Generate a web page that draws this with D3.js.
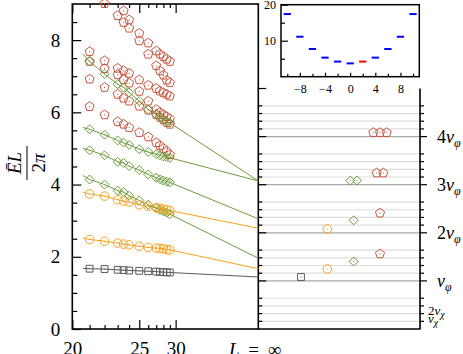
<!DOCTYPE html>
<html>
<head>
<meta charset="utf-8">
<script src="https://cdn.jsdelivr.net/npm/d3@7"></script>
<style>
  body { margin: 0; background: #fff; }
  svg { display: block; font-family: "Liberation Serif", "DejaVu Serif", serif; }
</style>
</head>
<body>
<div id="chart"></div>
<script>
// system sizes L, plotted against 1/L^2
const sizes = [21, 22, 23, 23.5, 24, 25, 26, 27, 27.5, 28, 28.5, 29]
const lineStartSize = 20.6

// E L / 2pi for every level, one value per size
const squareLevel = [1.67, 1.66, 1.64, 1.63, 1.62, 1.61, 1.60, 1.59, 1.58, 1.575, 1.57, 1.565]
const circleLow  = [2.48, 2.43, 2.38, 2.35, 2.33, 2.29, 2.26, 2.24, 2.23, 2.22, 2.20, 2.19]
const circleHigh = [3.74, 3.68, 3.58, 3.54, 3.52, 3.44, 3.40, 3.36, 3.34, 3.32, 3.30, 3.28]
const diamondA = [4.14, 4.00, 3.83, 3.79, 3.69, 3.56, 3.44, 3.35, 3.30, 3.26, 3.22, 3.18]
const diamondB = [4.95, 4.81, 4.63, 4.60, 4.51, 4.40, 4.28, 4.19, 4.15, 4.11, 4.08, 4.06]
const diamondC = [5.53, 5.38, 5.22, 5.16, 5.10, 4.98, 4.90, 4.84, 4.81, 4.78, 4.76, 4.74]
const diamondD = [7.41, 7.06, 6.78, 6.69, 6.55, 6.31, 6.08, 5.94, 5.87, 5.80, 5.75, 5.71]
const pentA = [6.16, 5.93, 5.74, 5.67, 5.58, 5.44, 5.32, 5.16, 5.08, 5.00, 4.92, 4.83]
const pentB = [6.92, 6.69, 6.50, 6.39, 6.31, 6.17, 6.06, 5.94, 5.86, 5.79, 5.72, 5.67]
const pentC = [7.41, 7.21, 7.04, 6.90, 6.81, 6.58, 6.31, 6.08, 6.00, 5.93, 5.88, 5.82]
const pentD = [7.68, 7.43, 7.22, 7.15, 7.08, 6.90, 6.75, 6.66, 6.59, 6.54, 6.50, 6.45]
const pentE = [null, 9.01, 8.68, 8.49, 8.33, 7.98, 7.61, 7.29, 7.15, 7.03, 6.89, 6.82]
const pentF = [null, null, null, 8.81, 8.56, 8.19, 7.92, 7.70, 7.61, 7.54, 7.47, 7.41]

// fitted lines: value at the line start and at L = infinity
const fitKinds  = ["square", "circle", "circle", "diamond", "diamond", "diamond", "diamond"]
const fitLevels = [squareLevel, circleLow, circleHigh, diamondA, diamondB, diamondC, diamondD]
const fitStart  = [1.68, 2.52, 3.79, 4.25, 5.00, 5.58, 7.61]
const fitEnd    = [1.44, 1.67, 2.79, 1.96, 3.05, 4.10, 4.10]

// extrapolated levels shown in the right panel
const infKinds  = ["square", "circle", "circle", "diamond", "diamond", "diamond", "diamond",
                   "pentagon", "pentagon", "pentagon", "pentagon", "pentagon", "pentagon", "pentagon"]
const infValues = [1.44, 1.66, 2.77, 1.87, 3.01, 4.11, 4.11, 2.08, 3.21, 4.32, 4.32, 5.44, 5.44, 5.44]

// velocities for the reference lines
const vPhi = 1.332
const vChi = 0.213
const phiMultiples = [1, 2, 3, 4]
const chiMultiples = [1, 2, 3, 4]

// inset: band vs momentum
const momenta = [-10, -8, -6, -4, -2, 0, 2, 4, 6, 8, 10]
const bandEnergy = [17.4, 11.1, 7.7, 5.3, 4.2, 3.7, 4.2, 5.3, 7.7, 11.1, 17.4]
const markedMomentum = 2

const yMajorTicks = [0, 2, 4, 6, 8]
const yMinorTicks = [0.5, 1, 1.5, 2.5, 3, 3.5, 4.5, 5, 5.5, 6.5, 7, 7.5, 8.5]
const xMajorTicks = [20, 25, 30]
const xMinorTicks = [21, 22, 23, 24, 26, 27, 28, 29]
const insetXLabels = [-8, -4, 0, 4, 8]
const insetXTicks = [-10, -6, -2, 2, 6, 10]

const colors = {square: "#5a5a5a", circle: "#f9a21e", diamond: "#6e9c3d", pentagon: "#c9573f"}

function markerPath(kind) {
  if (kind == "square") return "M-3.4,-3.4H3.4V3.4H-3.4Z"
  if (kind == "circle") return d3.symbol(d3.symbolCircle, Math.PI * 4.3 * 4.3)()
  if (kind == "diamond") return "M0,-4.5L4.5,0L0,4.5L-4.5,0Z"
  const pts = d3.range(5).map(i => {
    const a = -Math.PI / 2 + i * 2 * Math.PI / 5
    return [4.8 * Math.cos(a), 4.8 * Math.sin(a)]
  })
  return "M" + pts.join("L") + "Z"
}

const svg = d3.select("#chart")
  .append("svg")
    .attr("width", 463)
    .attr("height", 354)

const x = d3.scaleLinear().domain([1 / 400, 0]).range([72.3, 258.3])
const y = d3.scaleLinear().domain([0, 9]).range([329, 4])
const xR = d3.scalePoint().domain(["square", "circle", "diamond", "pentagon"]).range([301, 380])
const u = L => 1 / (L * L)

// right panel reference lines
const refLevels = []
chiMultiples.forEach(m => refLevels.push({v: m * vChi, major: false}))
phiMultiples.forEach(n => {
  refLevels.push({v: n * vPhi, major: true})
  chiMultiples.forEach(m => refLevels.push({v: n * vPhi + m * vChi, major: false}))
})

svg.append("g").selectAll("line")
  .data(refLevels)
  .join("line")
    .attr("x1", 258.3).attr("x2", 420)
    .attr("y1", d => y(d.v)).attr("y2", d => y(d.v))
    .attr("stroke", d => d.major ? "#a8a8a8" : "#dedede")
    .attr("stroke-width", 1.2)

const tickLevels = refLevels.concat([{v: 5 * vPhi, major: true}])
svg.append("g").selectAll("line")
  .data(tickLevels)
  .join("line")
    .attr("x1", 258.3).attr("x2", d => 258.3 + (d.major ? 8 : 4))
    .attr("y1", d => y(d.v)).attr("y2", d => y(d.v))
    .attr("stroke", "black").attr("stroke-width", 1.2)
svg.append("g").selectAll("line")
  .data(refLevels)
  .join("line")
    .attr("x1", 420).attr("x2", d => 420 + (d.major ? 7 : 4))
    .attr("y1", d => y(d.v)).attr("y2", d => y(d.v))
    .attr("stroke", "black").attr("stroke-width", 1.2)

// frames
svg.append("rect")
  .attr("x", 72.3).attr("y", 4).attr("width", 186).attr("height", 325)
  .attr("fill", "none").attr("stroke", "black").attr("stroke-width", 1.6)
svg.append("path")
  .attr("d", `M258.3,329H420V${y(5 * vPhi)}`)
  .attr("fill", "none").attr("stroke", "black").attr("stroke-width", 1.6)

// main axes
const styleAxis = g => {
  g.attr("font-family", null).attr("font-size", null)
  g.select(".domain").remove()
  g.selectAll("line").attr("stroke-width", 1.2)
}
svg.append("g")
  .attr("transform", "translate(72.3,0)")
  .call(d3.axisLeft(y).tickValues(yMajorTicks).tickSize(-9).tickPadding(12).tickFormat(d3.format("d")))
  .call(styleAxis)
  .selectAll("text").style("font-size", "19px")
svg.append("g")
  .attr("transform", "translate(72.3,0)")
  .call(d3.axisLeft(y).tickValues(yMinorTicks).tickSize(-5).tickFormat(""))
  .call(styleAxis)
svg.append("g")
  .attr("transform", "translate(0,329)")
  .call(d3.axisBottom(x).tickValues(xMajorTicks.map(u)).tickSize(-9).tickPadding(13)
    .tickFormat((d, i) => xMajorTicks[i]))
  .call(styleAxis)
  .selectAll("text").style("font-size", "19px")
svg.append("g")
  .attr("transform", "translate(0,329)")
  .call(d3.axisBottom(x).tickValues(xMinorTicks.map(u)).tickSize(-4).tickFormat(""))
  .call(styleAxis)
svg.append("g")
  .attr("transform", "translate(0,4)")
  .call(d3.axisTop(x).tickValues(xMajorTicks.map(u)).tickSize(-9).tickFormat(""))
  .call(styleAxis)
svg.append("g")
  .attr("transform", "translate(0,4)")
  .call(d3.axisTop(x).tickValues(xMinorTicks.map(u)).tickSize(-4).tickFormat(""))
  .call(styleAxis)

const infLabel = svg.append("text")
  .attr("x", 229).attr("y", 356).style("font-size", "19px").style("word-spacing", "4px")
infLabel.append("tspan").attr("font-style", "italic").text("L")
infLabel.append("tspan").text(" = ∞")

// y label as a rotated fraction
const yLabel = svg.append("g").attr("transform", "translate(0,163) rotate(-90)")
yLabel.append("text").attr("y", 21).attr("text-anchor", "middle")
  .attr("font-style", "italic").style("font-size", "19px").text("ĒL")
yLabel.append("line").attr("x1", -17).attr("x2", 17).attr("y1", 27).attr("y2", 27)
  .attr("stroke", "black").attr("stroke-width", 1)
yLabel.append("text").attr("y", 45).attr("text-anchor", "middle")
  .style("font-size", "19px").html("2<tspan font-style='italic'>π</tspan>")

// right axis labels
phiMultiples.forEach(n => {
  const t = svg.append("text").attr("x", 437).attr("y", y(n * vPhi) + 6).style("font-size", "18px")
  if (n > 1) t.append("tspan").text(n)
  t.append("tspan").attr("font-style", "italic").text("v")
  t.append("tspan").attr("font-style", "italic").attr("dy", 4).style("font-size", "12px").text("φ")
})
;[[2, 315], [1, 323]].forEach(([m, base]) => {
  const t = svg.append("text").attr("x", 428).attr("y", base).style("font-size", "13px")
  if (m > 1) t.append("tspan").text(m)
  t.append("tspan").attr("font-style", "italic").text("v")
  t.append("tspan").attr("font-style", "italic").attr("dy", 3).style("font-size", "10px").text("χ")
})

// fitted lines
const lineGen = d3.line().x(d => x(u(d[0]))).y(d => y(d[1]))
fitLevels.forEach((values, j) => {
  const pts = [[lineStartSize, fitStart[j]]]
    .concat(sizes.map((L, i) => [L, values[i]]))
    .concat([[Infinity, fitEnd[j]]])
  svg.append("path")
    .attr("d", lineGen(pts))
    .attr("fill", "none")
    .attr("stroke", colors[fitKinds[j]])
    .attr("stroke-width", 1)
})

// finite size markers
const markerSeries = [
  ["pentagon", pentA], ["pentagon", pentB], ["pentagon", pentC],
  ["pentagon", pentD], ["pentagon", pentE], ["pentagon", pentF],
  ["diamond", diamondA], ["diamond", diamondB], ["diamond", diamondC], ["diamond", diamondD],
  ["circle", circleLow], ["circle", circleHigh], ["square", squareLevel],
]
const points = []
markerSeries.forEach(([kind, values]) => {
  sizes.forEach((L, i) => {
    if (values[i] != null) points.push({kind, L, v: values[i]})
  })
})

const drawMarker = (sel, px, py) => {
  sel.each(function(d) {
    const g = d3.select(this).attr("transform", `translate(${px(d)},${py(d)})`)
    g.append("path").attr("d", markerPath(d.kind))
      .attr("fill", "none").attr("stroke", colors[d.kind]).attr("stroke-width", 1)
    g.append("circle").attr("r", 0.6).attr("fill", colors[d.kind])
  })
}
svg.append("g").selectAll("g")
  .data(points)
  .join("g")
  .call(drawMarker, d => x(u(d.L)), d => y(d.v))

// extrapolated markers, repeated levels placed side by side
const infPoints = infKinds.map((kind, i) => ({kind, v: infValues[i]}))
const groups = d3.group(infPoints, d => d.kind + d.v)
groups.forEach(list => list.forEach((d, k) => { d.offset = (k - (list.length - 1) / 2) * 6.7 }))
svg.append("g").selectAll("g")
  .data(infPoints)
  .join("g")
  .call(drawMarker, d => xR(d.kind) + d.offset, d => y(d.v))

// inset
const xi = d3.scaleLinear().domain([-11, 11]).range([281, 419.3])
const yi = d3.scaleLinear().domain([0, 20]).range([76.7, 4.7])
const inset = svg.append("g")
inset.append("rect")
  .attr("x", 281).attr("y", 4.7).attr("width", 138.3).attr("height", 72)
  .attr("fill", "white").attr("stroke", "black").attr("stroke-width", 1.5)
inset.append("g")
  .attr("transform", "translate(0,76.7)")
  .call(d3.axisBottom(xi).tickValues(insetXLabels).tickSize(-4).tickPadding(8))
  .call(styleAxis)
  .selectAll("text").style("font-size", "12px")
inset.append("g")
  .attr("transform", "translate(0,76.7)")
  .call(d3.axisBottom(xi).tickValues(insetXTicks).tickSize(-3).tickFormat(""))
  .call(styleAxis)
inset.append("g")
  .attr("transform", "translate(281,0)")
  .call(d3.axisLeft(yi).tickValues([10, 20]).tickSize(-7).tickPadding(5))
  .call(styleAxis)
  .selectAll("text").style("font-size", "12px")
inset.append("g")
  .attr("transform", "translate(281,0)")
  .call(d3.axisLeft(yi).tickValues([5, 15]).tickSize(-4).tickFormat(""))
  .call(styleAxis)
inset.append("g").selectAll("line")
  .data(momenta)
  .join("line")
    .attr("x1", d => xi(d - 0.58)).attr("x2", d => xi(d + 0.58))
    .attr("y1", (d, i) => yi(bandEnergy[i])).attr("y2", (d, i) => yi(bandEnergy[i]))
    .attr("stroke", d => d == markedMomentum ? "#ff0000" : "#0000ff")
    .attr("stroke-width", 2)
</script>
</body>
</html>
